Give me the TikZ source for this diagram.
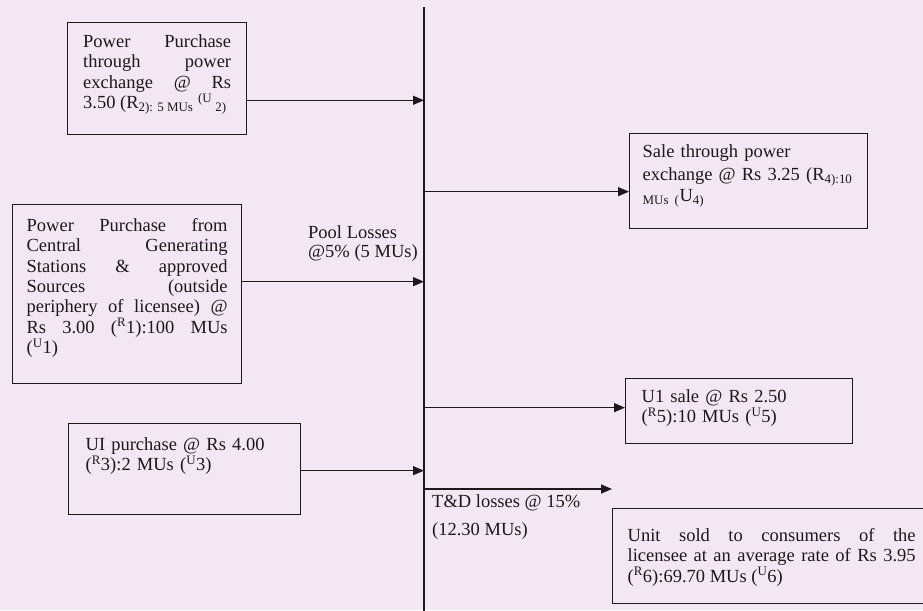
\documentclass[tikz,border=0pt]{standalone}
\usepackage{fontspec}
\setmainfont{Liberation Serif}
\usetikzlibrary{arrows.meta,calc}
\definecolor{paper}{RGB}{243,231,243}
\definecolor{ink}{RGB}{28,24,28}
\begin{document}
\begin{tikzpicture}[x=1pt,y=-1pt,
  fnt/.style={font=\fontsize{18.5}{20.3}\selectfont, text=ink},
  box/.style={draw=ink, line width=1.3pt, fnt, anchor=north west, inner ysep=0pt},
  arr/.style={draw=ink, line width=1.3pt, -{Triangle[length=11pt,width=9pt]}},
  busline/.style={draw=ink, line width=1.3pt},
  lbl/.style={fnt, anchor=north west, inner sep=0pt, align=left}]
\useasboundingbox (0,0) rectangle (923,610);
\clip (0,0) rectangle (923,610);
\fill[paper] (0,0) rectangle (923,610);

% vertical pool line
\coordinate (bt) at (424,7);
\coordinate (bb) at (424,612);
\draw[busline] (bt) -- (bb);

% input boxes
\node[box, align=justify, text width=148pt, inner xsep=15.5pt, text height=25pt, text depth=87pt] (b1) at (67,22)
  {Power Purchase\linebreak through power\linebreak exchange @ Rs\linebreak 3.50 (R\textsubscript{2): 5 MUs} \textsuperscript{(U}\,\textsubscript{2)}};

\node[box, align=justify, text width=201pt, inner xsep=14pt, text height=27pt, text depth=152pt] (b2) at (12,204)
  {Power Purchase from\linebreak Central Generating\linebreak Stations \& approved\linebreak Sources (outside\linebreak periphery of licensee) @\linebreak Rs 3.00 (\textsuperscript{R}1):100 MUs\linebreak (\textsuperscript{U}1)};

\node[box, align=left, text width=198pt, inner xsep=17pt, text height=27pt, text depth=64pt] (b3) at (68,423)
  {UI purchase @ Rs 4.00\\ (\textsuperscript{R}3):2 MUs (\textsuperscript{U}3)};

% output boxes
\node[box, align=left, text width=212pt, inner xsep=13pt, text height=24pt, text depth=71pt] (b4) at (629,133)
  {Sale through power\\[3pt] \mbox{exchange @ Rs 3.25 (R\textsubscript{4):10}}\\ \textsubscript{MUs (}U\textsubscript{4)}};

\node[box, align=left, text width=195pt, inner xsep=16pt, text height=24pt, text depth=41pt] (b5) at (625,378)
  {U1 sale @ Rs 2.50\\ (\textsuperscript{R}5):10 MUs (\textsuperscript{U}5)};

\node[box, align=justify, text width=288pt, inner xsep=15pt, text height=33pt, text depth=62pt] (b6) at (612,508)
  {Unit sold to consumers of the\linebreak licensee at an average rate of Rs 3.95\linebreak (\textsuperscript{R}6):69.70 MUs (\textsuperscript{U}6)};

% labels
\node[lbl] (pool) at (308,225.4) {Pool Losses\\[-1.3pt] @5\% (5 MUs)};
\node[lbl] (tdl) at (432,494.4) {T\&D losses @ 15\%\\[7.7pt] (12.30 MUs)};

% arrows into the pool
\draw[arr] ([yshift=35pt]b1.south east) coordinate (o1) -- (o1 -| bt);
\draw[arr] ([yshift=12.5pt]b2.east) coordinate (o2) -- (o2 -| bt);
\draw[arr] ([yshift=-1.5pt]b3.east) coordinate (o3) -- (o3 -| bt);

% arrows out of the pool
\coordinate (i4) at ([yshift=-10.5pt]b4.west);
\draw[arr] (i4 -| bt) -- (i4);
\coordinate (i5) at ([yshift=3.5pt]b5.west);
\draw[arr] (i5 -| bt) -- (i5);
\coordinate (i6) at ([yshift=19pt]b6.north west);
\draw[arr] (i6 -| bt) -- (i6);
\end{tikzpicture}
\end{document}
